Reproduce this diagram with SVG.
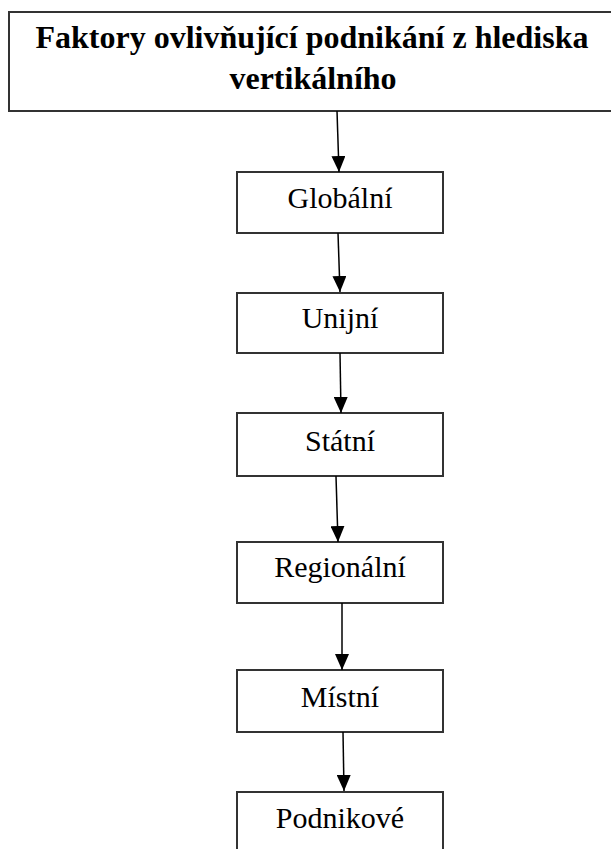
<svg xmlns="http://www.w3.org/2000/svg" width="611" height="849" viewBox="0 0 611 849">
<style>
.box{fill:#fff;stroke:#333;stroke-width:2}
.lbl{font-family:"Liberation Serif","Times New Roman",serif;font-size:30px;fill:#000;text-anchor:middle}
.title{font-family:"Liberation Serif","Times New Roman",serif;font-size:32px;font-weight:bold;fill:#000;text-anchor:middle}
.conn{stroke:#000;stroke-width:1.5;fill:none;marker-end:url(#ah)}
</style>
<defs>
<marker id="ah" markerUnits="userSpaceOnUse" markerWidth="16" markerHeight="14" refX="16" refY="7" orient="auto">
<path d="M0,0 L16,7 L0,14 z" fill="#000"/>
</marker>
</defs>
<rect width="611" height="849" fill="#fff"/>
<g id="title">
<rect class="box" x="9" y="12" width="610" height="99"/>
<text class="title" x="312" y="48">Faktory ovlivňující podnikání z hlediska</text>
<text class="title" x="313" y="89">vertikálního</text>
</g>
<g id="globalni">
<rect class="box" x="237" y="172" width="206" height="61"/>
<text class="lbl" x="340" y="208">Globální</text>
</g>
<g id="unijni">
<rect class="box" x="237" y="293" width="206" height="60"/>
<text class="lbl" x="340" y="328">Unijní</text>
</g>
<g id="statni">
<rect class="box" x="237" y="413" width="206" height="63"/>
<text class="lbl" x="340" y="451">Státní</text>
</g>
<g id="regionalni">
<rect class="box" x="237" y="542" width="206" height="61"/>
<text class="lbl" x="340" y="577">Regionální</text>
</g>
<g id="mistni">
<rect class="box" x="237" y="670" width="206" height="62"/>
<text class="lbl" x="340" y="707">Místní</text>
</g>
<g id="podnikove">
<rect class="box" x="237" y="792" width="206" height="70"/>
<text class="lbl" x="340" y="828">Podnikové</text>
</g>
<g id="connectors">
<line class="conn" x1="337" y1="111" x2="339" y2="172"/>
<line class="conn" x1="338" y1="233" x2="340" y2="292"/>
<line class="conn" x1="340" y1="353" x2="341" y2="413"/>
<line class="conn" x1="336" y1="476" x2="338" y2="542"/>
<line class="conn" x1="342" y1="603" x2="342" y2="670"/>
<line class="conn" x1="343" y1="732" x2="344" y2="791"/>
</g>
</svg>
